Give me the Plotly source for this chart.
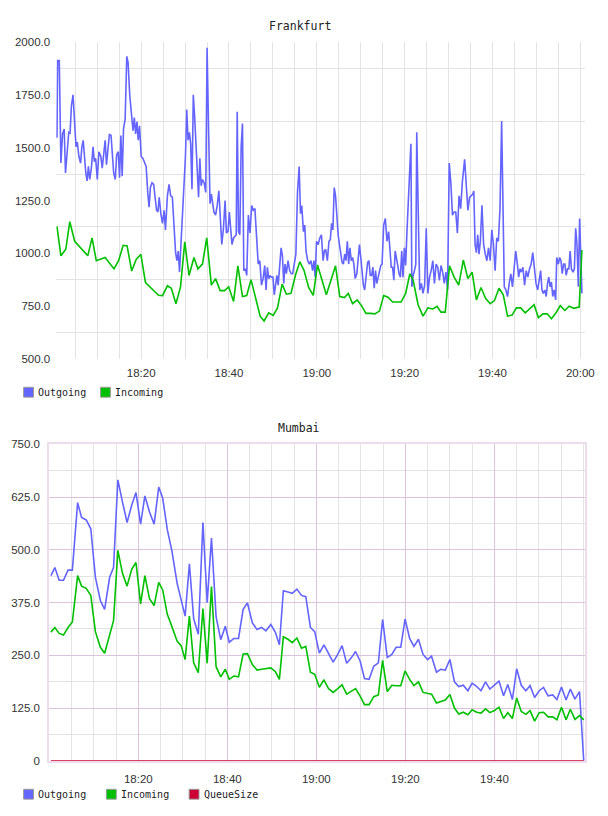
import pandas as pd
import plotly.graph_objects as go

# ---------------- data (minutes after 18:00) ----------------
fk_out_t = [0.83,0.98,1.35,1.72,2.10,2.47,2.77,3.22,3.51,3.81,
    4.11,4.48,4.86,5.16,5.45,5.83,6.20,6.50,6.80,7.10,
    7.39,7.69,7.99,8.29,8.66,9.04,9.33,9.63,10.01,10.38,
    10.83,11.13,11.42,11.80,12.10,12.39,12.77,13.14,13.44,13.74,
    14.11,14.41,14.78,15.08,15.38,15.68,15.98,16.35,16.72,17.02,
    17.39,17.77,18.14,18.44,18.74,19.04,19.33,19.63,20.01,20.38,
    20.75,21.13,21.50,21.80,22.10,22.47,22.84,23.22,23.51,23.81,
    24.11,24.48,24.86,25.23,25.53,25.98,26.35,26.72,27.10,27.47,
    27.84,28.14,28.44,28.74,29.04,29.33,29.71,30.08,30.38,30.68,
    30.98,31.27,31.57,31.87,32.17,32.47,32.77,33.07,33.36,33.66,
    33.96,34.33,34.71,35.01,35.30,35.68,35.98,36.27,36.57,36.95,
    37.32,37.69,37.99,38.36,38.74,39.11,39.41,39.78,40.08,40.38,
    40.68,41.05,
    41.65,41.87,42.17,42.47,42.77,43.07,43.37,43.74,44.04,44.41,
    44.78,45.16,45.53,45.90,46.28,46.65,47.02,47.40,47.77,48.14,
    48.44,48.74,49.04,49.34,49.63,50.01,50.31,50.60,50.90,51.20,
    51.50,51.87,52.17,52.47,52.77,53.07,53.44,53.81,54.19,54.49,
    54.86,55.23,55.60,55.98,56.28,56.57,56.95,57.25,57.54,57.92,
    58.29,58.66,59.04,59.34,59.63,59.93,60.31,60.68,61.05,61.43,
    61.72,62.02,62.40,62.77,63.07,63.37,63.66,63.96,64.26,64.56,
    64.86,65.16,65.46,65.75,66.05,66.35,66.65,66.95,67.25,67.54,
    67.84,68.14,68.44,68.74,69.11,69.41,69.71,70.01,70.31,70.60,
    70.90,71.28,71.57,71.87,72.17,72.47,72.77,73.07,73.37,73.66,
    73.96,74.26,74.56,74.86,75.23,75.60,75.98,76.35,76.65,76.95,
    77.25,77.54,77.84,78.14,78.44,78.74,79.04,79.34,79.63,79.93,
    80.23,80.53,80.83,81.13,81.43,
    81.64,81.94,82.24,82.54,82.76,83.06,83.43,83.81,84.18,84.55,
    84.92,85.30,85.67,86.04,86.42,86.79,87.16,87.54,87.91,88.28,
    88.66,89.03,89.40,89.78,90.15,90.52,90.89,91.27,91.64,92.01,
    92.39,92.76,93.13,93.66,94.03,94.40,94.78,95.15,95.52,95.75,
    96.04,96.34,96.64,96.94,97.24,97.61,97.98,98.36,98.73,99.10,
    99.48,99.85,100.22,100.60,100.97,101.34,101.72,102.09,102.46,102.69,
    103.06,103.43,103.81,104.18,104.55,104.92,105.30,105.67,105.97,106.27,
    106.57,106.94,107.31,107.69,108.06,108.43,108.81,109.18,109.55,109.92,
    110.30,110.67,110.97,111.27,111.57,111.94,112.24,112.54,112.83,113.13,
    113.43,113.73,114.03,114.40,114.63,115.00,115.30,115.60,115.89,116.19,
    116.49,116.79,117.09,117.39,117.69,117.98,118.36,118.66,118.95,119.25,
    119.55,119.85,120.15,120.37]
fk_out_v = [1548,1914,1914,1428,1566,1590,1381,1505,1574,1570,
    1698,1752,1582,1505,1528,1458,1428,1505,1536,1428,
    1381,1343,1412,1350,1404,1505,1435,1451,1350,1482,
    1458,1404,1474,1536,1420,1474,1566,1559,1443,1381,
    1350,1466,1482,1358,1559,1366,1590,1636,1934,1906,
    1752,1644,1582,1644,1566,1625,1536,1605,1458,1451,
    1435,1412,1289,1219,1312,1335,1327,1266,1204,1196,
    1266,1188,1142,1204,1111,1273,1327,1273,1266,1134,
    1003,965,1011,911,1042,1181,1335,1458,1682,1536,
    1574,1520,1304,1752,1651,1536,1428,1266,1451,1320,
    1350,1335,1289,1975,1644,1235,1281,1242,1196,1181,
    1227,1296,1188,1042,1119,1250,1096,1104,1196,1134,
    1042,1073,
    1088,1671,1103,1088,1505,1616,918,926,895,1181,
    1096,1227,1204,1212,1103,949,965,849,880,942,
    826,934,880,895,887,887,803,857,895,849,
    918,1026,988,857,949,903,965,918,903,903,
    949,996,1289,1412,1188,1227,1103,1134,1011,965,
    949,965,918,965,887,1057,1041,1073,1088,965,
    1011,1019,965,1057,1065,1142,1111,1312,1273,1165,
    1088,1041,1003,957,949,996,965,1057,949,1026,
    965,980,949,880,903,965,1041,980,887,849,
    826,887,957,965,895,895,934,834,918,857,
    887,918,942,949,1134,1165,1057,1103,1011,934,
    934,872,1011,965,942,903,887,1011,887,1026,
    942,1103,1258,1443,1520,
    841,895,918,949,1574,1134,826,857,810,849,
    1119,810,887,918,965,857,949,934,872,942,
    911,857,911,826,1428,1335,1181,1196,1196,1096,
    1273,1212,1335,1446,1320,1204,1265,1273,1281,1296,
    1042,1003,1088,996,1057,1228,1042,996,965,1026,
    965,1111,1042,918,1073,1057,1212,1628,965,841,
    826,795,857,903,841,949,1011,949,887,926,
    911,934,849,918,887,926,949,1003,918,857,
    826,887,918,826,810,826,795,857,887,841,
    864,795,826,779,980,949,980,965,903,949,
    949,895,926,926,1011,926,911,926,1119,1042,
    841,1165,926,810]

fk_in_t = [0.83,1.72,2.84,3.74,4.86,7.84,8.81,9.78,11.80,13.81,
    14.86,15.90,16.80,17.84,18.89,19.93,20.98,23.96,24.86,25.98,
    26.87,27.92,28.96,29.93,30.90,32.02,32.92,33.96,34.93,35.98,
    36.95,37.99,38.96,39.93,
    41.05,42.02,43.07,44.04,45.01,46.05,47.10,47.99,49.04,50.08,
    51.05,52.10,53.07,54.11,55.16,56.13,57.10,58.14,59.19,60.16,
    61.20,62.17,64.26,65.23,66.28,67.17,68.14,69.19,70.16,71.20,
    72.17,73.22,74.26,75.23,76.20,77.25,79.19,80.23,
    81.19,81.94,83.06,84.18,85.30,86.42,87.39,88.28,89.25,90.22,
    91.27,92.31,93.36,94.40,95.37,96.34,97.39,98.43,99.48,100.45,
    101.49,102.46,103.43,104.48,105.45,106.42,107.46,108.51,109.48,110.45,
    111.49,112.46,113.43,114.48,115.45,116.49,117.46,118.51,119.48,119.75,
    120.37]
fk_in_v = [1127,988,1019,1150,1057,988,1073,965,980,926,
    965,1038,1035,916,972,995,861,801,799,846,
    834,761,841,1054,895,980,926,949,1073,849,
    880,823,823,841,
    772,941,795,800,875,795,702,679,718,705,
    741,854,806,810,898,960,918,838,800,945,
    872,803,941,795,790,810,761,779,752,715,
    715,713,726,800,792,769,769,810,
    903,872,756,702,741,736,749,721,721,941,
    887,849,968,880,911,779,838,787,761,776,
    834,803,702,707,741,741,718,736,756,695,
    713,713,690,718,752,729,749,739,741,745,
    1015]

mb_t = [0.37,1.26,2.22,3.19,4.22,5.19,6.37,7.26,8.30,9.33,
    10.37,11.48,12.44,13.56,14.44,15.41,16.44,17.48,18.52,19.48,
    20.52,21.48,22.52,23.56,24.59,25.48,26.52,27.56,
    28.74,29.63,30.52,31.48,32.44,33.48,34.52,35.48,36.44,37.48,
    38.52,39.55,40.44,41.48,42.52,43.55,44.52,45.63,46.67,47.70,
    48.67,49.78,50.81,51.70,52.59,53.63,54.59,55.63,56.67,57.63,
    58.67,59.63,60.67,61.70,62.74,63.78,64.81,65.78,66.81,67.85,
    68.81,69.85,70.81,71.85,72.89,73.93,74.89,75.93,76.96,77.93,
    78.96,79.93,80.96,81.93,
    82.94,83.97,85.00,85.88,86.99,87.94,88.97,90.00,91.03,91.99,
    93.01,94.04,95.00,96.03,96.99,98.01,98.97,100.00,101.03,102.06,
    103.01,104.04,105.00,106.03,107.06,108.01,109.04,110.07,111.03,112.06,
    113.09,114.04,115.07,116.10,117.06,118.09,119.12,120.07]
mb_out_v = [439,458,428,428,452,452,612,577,571,550,
    435,380,359,435,458,666,614,565,606,636,
    561,628,590,561,649,623,548,497,
    420,384,343,467,337,300,565,375,528,341,
    287,319,281,290,290,359,374,327,311,316,
    308,323,304,275,403,400,397,407,392,389,
    316,306,255,275,255,234,252,273,231,244,
    259,236,195,193,224,232,335,245,252,269,
    269,336,290,271,
    288,252,240,248,210,217,215,240,187,176,
    179,166,184,176,166,187,170,179,189,154,
    181,145,218,179,166,178,150,166,174,154,
    156,145,175,144,170,146,164,0]
mb_in_v = [305,316,302,298,316,329,439,414,409,392,
    306,269,255,302,332,499,445,414,454,470,
    372,439,384,368,423,405,347,318,
    283,273,240,343,232,209,361,231,413,223,
    199,217,193,201,199,253,254,228,215,217,
    218,220,211,193,294,288,280,291,267,271,
    210,205,174,192,171,162,171,180,158,164,
    171,153,133,133,152,156,238,164,179,178,
    178,213,193,178,
    187,162,160,158,137,141,144,157,125,111,
    115,109,121,115,113,123,114,119,127,100,
    114,100,149,117,110,119,94,114,115,104,
    104,97,127,97,122,98,107,97]
mb_q_t = [0.37, 120.07]
mb_q_v = [0, 0]

fk_yticks = [500, 750, 1000, 1250, 1500, 1750, 2000]
fk_yticktext = ["500.0", "750.0", "1000.0", "1250.0", "1500.0", "1750.0", "2000.0"]
mb_yticks = [0, 125, 250, 375, 500, 625, 750]
mb_yticktext = ["0", "125.0", "250.0", "375.0", "500.0", "625.0", "750.0"]
fk_xticks = ["18:20", "18:40", "19:00", "19:20", "19:40", "20:00"]
mb_xticks = ["18:20", "18:40", "19:00", "19:20", "19:40"]

fk_series = ["Outgoing", "Incoming"]
mb_series = ["Outgoing", "Incoming", "QueueSize"]

# ---------------- helpers ----------------
BASE = pd.Timestamp("2013-01-01 18:00:00")
def tm(mins):
    return [BASE + pd.Timedelta(minutes=m) for m in mins]
def hm(labels):
    return [pd.Timestamp("2013-01-01 " + s + ":00") for s in labels]

BLUE = "#6464ff"
GREEN = "#00c000"
RED = "#cc0033"
COLORS = {"Outgoing": BLUE, "Incoming": GREEN, "QueueSize": RED}
GRID = "#e3e3e3"
PINK = "#dcc3dc"
TICKFONT = dict(family="Liberation Sans, Arial, sans-serif", size=11.5, color="#333333")
MONO = "DejaVu Sans Mono, monospace"

W, H = 608, 816
def px_x(p):
    return p / W
def px_y(p):
    return 1 - p / H

fig = go.Figure()

# Frankfurt
fig.add_trace(go.Scatter(x=tm(fk_out_t), y=fk_out_v, mode="lines", name="Outgoing",
                         line=dict(color=BLUE, width=1.6), xaxis="x", yaxis="y"))
fig.add_trace(go.Scatter(x=tm(fk_in_t), y=fk_in_v, mode="lines", name="Incoming",
                         line=dict(color=GREEN, width=1.6), xaxis="x", yaxis="y"))
# Mumbai
fig.add_trace(go.Scatter(x=tm(mb_t), y=mb_out_v, mode="lines", name="Outgoing",
                         line=dict(color=BLUE, width=1.6), xaxis="x2", yaxis="y2"))
fig.add_trace(go.Scatter(x=tm(mb_t), y=mb_in_v, mode="lines", name="Incoming",
                         line=dict(color=GREEN, width=1.6), xaxis="x2", yaxis="y2"))
fig.add_trace(go.Scatter(x=tm(mb_q_t), y=mb_q_v, mode="lines", name="QueueSize",
                         line=dict(color=RED, width=1.6), cliponaxis=False,
                         xaxis="x2", yaxis="y2"))

# legends drawn as swatch + label rows below each chart
shapes = []
annotations = [
    dict(text="Frankfurt", x=px_x(304), y=px_y(20.5), xref="paper", yref="paper",
         xanchor="center", yanchor="middle", showarrow=False,
         font=dict(family=MONO, size=11.5, color="#222222")),
    dict(text="Mumbai", x=px_x(303), y=px_y(428), xref="paper", yref="paper",
         xanchor="center", yanchor="middle", showarrow=False,
         font=dict(family=MONO, size=11.5, color="#222222")),
]
def add_legend(names, x0, step, yc):
    for i, nm in enumerate(names):
        left = x0 + i * step
        shapes.append(dict(type="rect", xref="paper", yref="paper",
                           x0=px_x(left), x1=px_x(left + 10),
                           y0=px_y(yc + 5), y1=px_y(yc - 5),
                           fillcolor=COLORS[nm], line=dict(color="#999999", width=1)))
        annotations.append(dict(text=nm, x=px_x(left + 13), y=px_y(yc), xref="paper",
                                yref="paper", xanchor="left", yanchor="middle",
                                showarrow=False,
                                font=dict(family=MONO, size=10, color="#222222")))
add_legend(fk_series, 24, 78, 392)
add_legend(mb_series, 24, 84, 800)

fig.update_layout(
    width=W, height=H, autosize=False,
    margin=dict(l=0, r=0, t=0, b=0),
    paper_bgcolor="white", plot_bgcolor="white",
    showlegend=False,
    xaxis=dict(domain=[px_x(57), px_x(594)], anchor="y", type="date",
               range=tm([0.64, 121.12]),
               tickvals=hm(fk_xticks), ticktext=fk_xticks,
               showgrid=True, gridcolor=GRID, gridwidth=1,
               minor=dict(dtick=300000, tick0=BASE, showgrid=True, gridcolor=GRID, gridwidth=1),
               zeroline=False, showline=False, ticks="", ticklabelstandoff=6,
               tickfont=TICKFONT),
    yaxis=dict(domain=[px_y(358), px_y(37)], anchor="x",
               range=[500, 2000], tickvals=fk_yticks, ticktext=fk_yticktext,
               showgrid=False,
               minor=dict(tickvals=[625, 875, 1125, 1375, 1625, 1875], showgrid=True,
                          gridcolor=GRID, gridwidth=1),
               zeroline=False, showline=False, ticks="", ticklabelstandoff=5,
               tickfont=TICKFONT),
    xaxis2=dict(domain=[px_x(50), px_x(594)], anchor="y2", type="date",
                range=tm([0.0, 120.4]),
                tickvals=hm(mb_xticks), ticktext=mb_xticks,
                showgrid=True, gridcolor=PINK, gridwidth=1,
                minor=dict(dtick=300000, tick0=BASE, showgrid=True, gridcolor=GRID, gridwidth=1),
                zeroline=False, showline=True, mirror=True, linecolor="#ecdcec", linewidth=2,
                ticks="", ticklabelstandoff=6, tickfont=TICKFONT),
    yaxis2=dict(domain=[px_y(766), px_y(445)], anchor="x2",
                range=[0, 750], tickvals=mb_yticks, ticktext=mb_yticktext,
                showgrid=True, gridcolor=PINK, gridwidth=1,
                minor=dict(tickvals=[62.5, 187.5, 312.5, 437.5, 562.5, 687.5], showgrid=True,
                           gridcolor=GRID, gridwidth=1),
                zeroline=False, showline=True, mirror=True, linecolor="#ecdcec", linewidth=2,
                ticks="", ticklabelstandoff=5, tickfont=TICKFONT),
    shapes=shapes,
    annotations=annotations,
)

fig.write_html("out.html")
